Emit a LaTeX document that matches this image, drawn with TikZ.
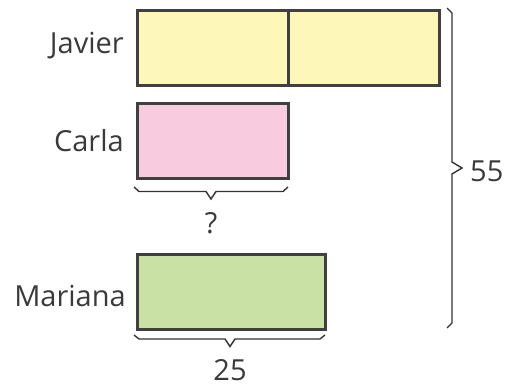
\documentclass[tikz,border=0pt]{standalone}
\usepackage{fontspec}
\setmainfont{Open Sans}
\definecolor{barline}{HTML}{404040}
\definecolor{braceline}{HTML}{333333}
\definecolor{txt}{HTML}{3A3A3A}
\definecolor{yel}{HTML}{FDF8BA}
\definecolor{pnk}{HTML}{F8CBDF}
\definecolor{grn}{HTML}{C9E1A5}
\begin{document}
\begin{tikzpicture}[x=1pt,y=-1pt,
  bar/.style={draw=barline, line width=3pt, anchor=north west, inner sep=0pt, minimum height=75pt},
  lbl/.style={anchor=east, text=txt, font=\fontsize{29}{32}\selectfont, inner sep=0pt},
  brc/.style={draw=braceline, line width=1.4pt, line join=miter},
  num/.style={text=txt, font=\fontsize{29}{32}\selectfont, inner sep=0pt}]
\useasboundingbox (0,0) rectangle (507,388);
\node[bar, fill=yel, minimum width=151pt] (j1) at (135.5,8.5) {};
\node[bar, fill=yel, minimum width=151.5pt] (j2) at (286.5,8.5) {};
\node[bar, fill=pnk, minimum width=151pt] (c) at (135.5,101.5) {};
\node[bar, fill=grn, minimum width=188pt, minimum height=74.5pt] (m) at (135.5,253) {};
\node[lbl] (lj) at (124,46) {Javier};
\node[lbl] (lc) at (124,141) {Carla};
\node[lbl] (lm) at (126,296) {Mariana};
% brace under Carla
\draw[brc] (134,187) -- (139,191.5) -- (206,191.5) -- (211,199) -- (216,191.5) -- (283,191.5) -- (288,187);
\node[num] (q) at (211,223) {?};
% brace under Mariana
\draw[brc] (134,335) -- (139,339) -- (225,339) -- (230,346.5) -- (235,339) -- (320,339) -- (325,335);
\node[num] (n25) at (230,370) {25};
% right brace
\draw[brc] (447,8) -- (452,13) -- (452,162) -- (462,168) -- (452,174) -- (452,323) -- (447,328);
\node[num, anchor=west] (n55) at (470,171) {55};
\end{tikzpicture}
\end{document}
